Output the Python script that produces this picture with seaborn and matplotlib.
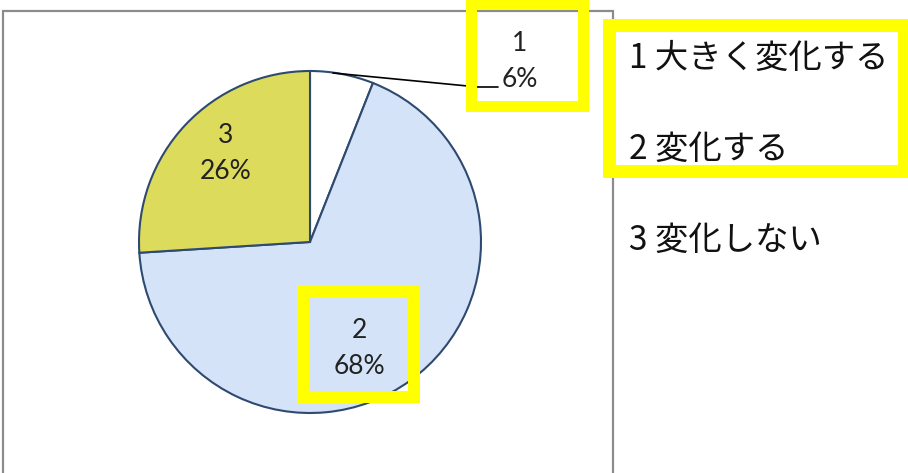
import matplotlib
matplotlib.use("Agg")
import matplotlib.pyplot as plt
import seaborn as sns
from matplotlib.patches import Rectangle

# ---- data ----
categories = ["1", "2", "3"]
legend_labels = ["1 大きく変化する", "2 変化する", "3 変化しない"]
values = [6, 68, 26]
pct_labels = ["6%", "68%", "26%"]

sns.set_theme(style="white")
plt.rcParams['font.family'] = ['Noto Sans CJK JP', 'DejaVu Sans']

W, H = 908, 473
fig = plt.figure(figsize=(W / 100, H / 100), dpi=100)
fig.patch.set_facecolor("white")

def fx(px):
    return px / W

def fy(py):
    return 1 - py / H

# chart frame
fig.patches.append(Rectangle((fx(3), fy(520)), fx(610), (520 - 11) / H,
                             transform=fig.transFigure, fill=False,
                             edgecolor="#8c8c8c", linewidth=1.6, zorder=0))

cx, cy, r = 310, 242, 171
ax = fig.add_axes([fx(cx - r), fy(cy + r), 2 * r / W, 2 * r / H])

colors = ["#ffffff", "#d5e3f8", "#dcdb5c"]
ax.pie(values, colors=colors, startangle=90, counterclock=False, radius=1,
       wedgeprops=dict(edgecolor="#2e4a70", linewidth=1.5))
ax.set_xlim(-1, 1)
ax.set_ylim(-1, 1)
ax.set_aspect("equal")
ax.axis("off")

def d(px, py):
    return ((px - cx) / r, (cy - py) / r)

# leader line for slice 1
lx = [d(333, 73), d(478, 87), d(498, 87)]
ax.plot([p[0] for p in lx], [p[1] for p in lx], color="black", lw=1.2,
        clip_on=False, zorder=5)

label_font = dict(family=['Lato', 'DejaVu Sans'], fontsize=19, color="#222222",
                  ha="center", va="center")
label_pos = [(520, 43, 79), (359, 330, 366), (226, 135, 171)]
for cat, pct, (px, py1, py2) in zip(categories, pct_labels, label_pos):
    ax.text(*d(px, py1), cat, clip_on=False, zorder=6, **label_font)
    ax.text(*d(px, py2), pct, clip_on=False, zorder=6, **label_font)

# legend text
leg_y = [58, 149, 240]
for lab, py in zip(legend_labels, leg_y):
    fig.text(fx(629), fy(py), lab, fontsize=24, color="#111111",
             ha="left", va="center",
             family=['Noto Sans CJK JP', 'DejaVu Sans'])

# yellow highlight rectangles
def ybox(x0, y0, x1, y1, lw):
    fig.patches.append(Rectangle((fx(x0), fy(y1)), fx(x1 - x0), (y1 - y0) / H,
                                 transform=fig.transFigure, fill=False,
                                 edgecolor="#ffff00", linewidth=lw * 0.72,
                                 zorder=10))

ybox(471.5, 4, 582.5, 106.5, 11)
ybox(303, 292, 414, 397, 12)
ybox(608.5, 25, 904, 171.5, 13)

fig.savefig("out.png", dpi=100, facecolor="white")
